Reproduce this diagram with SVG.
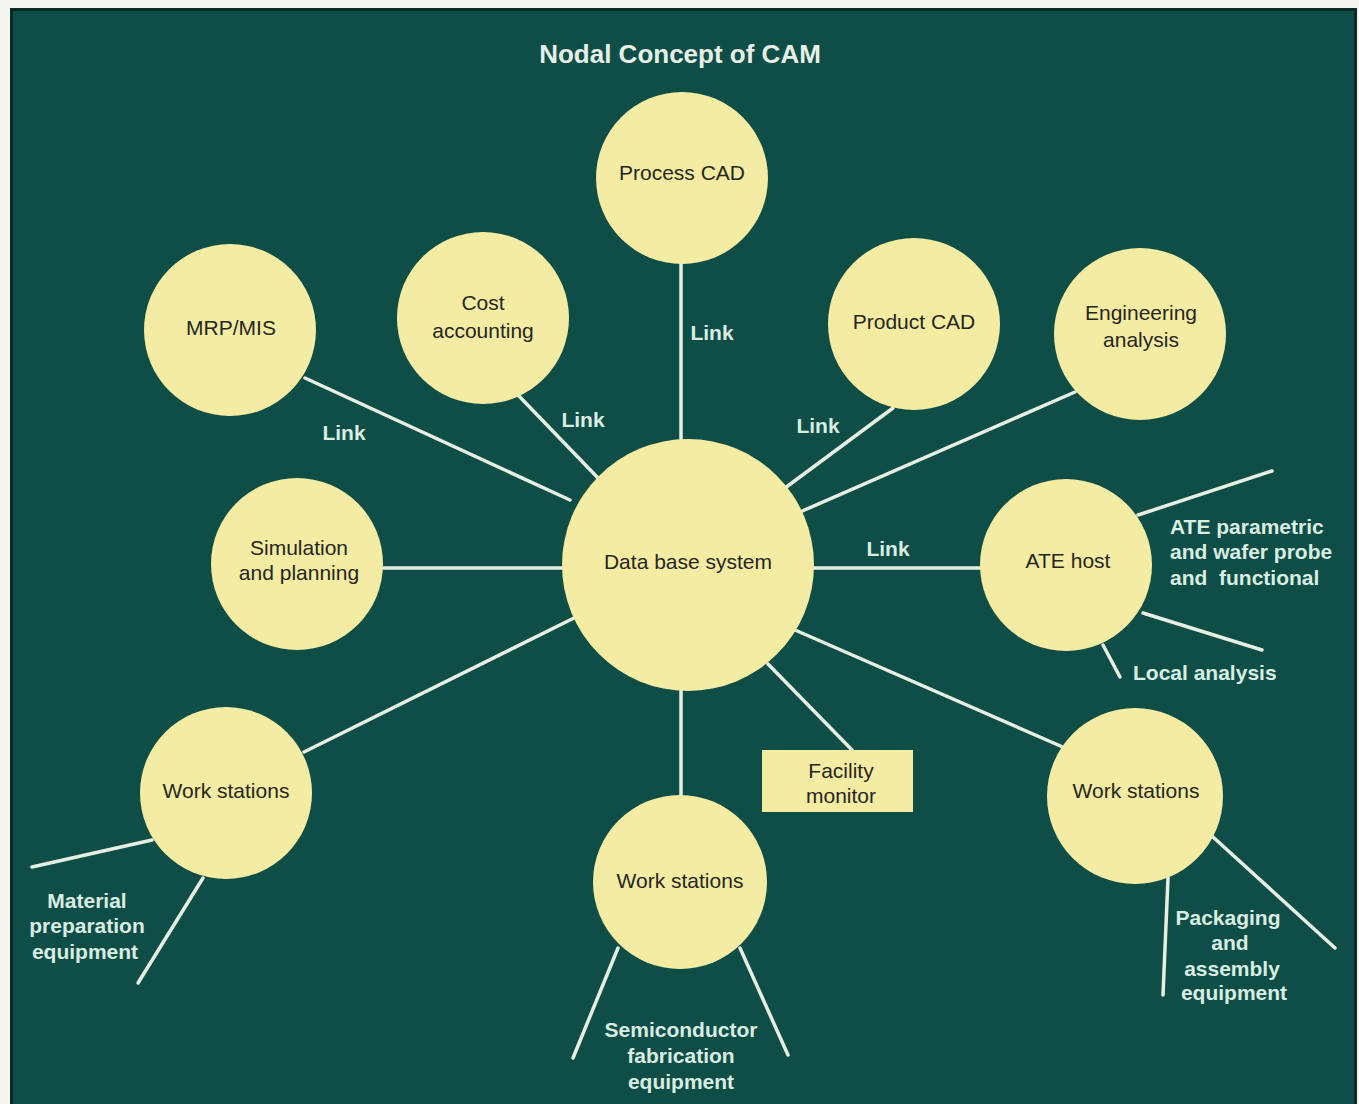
<svg xmlns="http://www.w3.org/2000/svg" width="1359" height="1104" viewBox="0 0 1359 1104">
<style>
.bg{fill:#0f4e46}
.n{fill:#f3eca2}
.t{font-family:"Liberation Sans",Arial,sans-serif;font-size:21px;fill:#27261c;text-anchor:middle}
.l{font-family:"Liberation Sans",Arial,sans-serif;font-size:21px;font-weight:bold;fill:#d9ede2;text-anchor:middle}
.c line{stroke:#e6efe2;stroke-width:3.5;stroke-linecap:round}
</style>
<rect x="0" y="0" width="1359" height="1104" fill="#f4f4f0"/>
<rect x="10" y="8" width="1347" height="1096" fill="#0a2a26"/>
<rect class="bg" x="13" y="11" width="1341" height="1093"/>
<text x="680" y="63" class="l" style="font-size:26px;fill:#e6f0e6">Nodal Concept of CAM</text>
<g class="c" id="connectors">
<line x1="681" y1="262" x2="681" y2="440"/>
<line x1="305" y1="378" x2="570" y2="500"/>
<line x1="518" y1="395" x2="598" y2="478"/>
<line x1="893" y1="408" x2="785" y2="488"/>
<line x1="1075" y1="392" x2="800" y2="512"/>
<line x1="383" y1="568" x2="562" y2="568"/>
<line x1="812" y1="568" x2="980" y2="568"/>
<line x1="304" y1="752" x2="576" y2="617"/>
<line x1="681" y1="688" x2="681" y2="795"/>
<line x1="768" y1="664" x2="852" y2="750"/>
<line x1="795" y1="630" x2="1065" y2="748"/>
<line x1="1138" y1="515" x2="1272" y2="471"/>
<line x1="1143" y1="613" x2="1262" y2="650"/>
<line x1="1103" y1="645" x2="1120" y2="677"/>
<line x1="32" y1="867" x2="152" y2="840"/>
<line x1="203" y1="878" x2="138" y2="983"/>
<line x1="618" y1="948" x2="573" y2="1058"/>
<line x1="740" y1="948" x2="788" y2="1055"/>
<line x1="1168" y1="878" x2="1163" y2="995"/>
<line x1="1213" y1="837" x2="1335" y2="948"/>
</g>
<g id="labels">
<text x="712" y="340" class="l">Link</text>
<text x="344" y="440" class="l">Link</text>
<text x="583" y="427" class="l">Link</text>
<text x="818" y="433" class="l">Link</text>
<text x="888" y="556" class="l">Link</text>
<text x="1170" y="534" class="l" style="text-anchor:start">ATE parametric</text>
<text x="1170" y="559" class="l" style="text-anchor:start">and wafer probe</text>
<text x="1170" y="585" class="l" style="text-anchor:start;white-space:pre" xml:space="preserve">and  functional</text>
<text x="1133" y="680" class="l" style="text-anchor:start">Local analysis</text>
<text x="87" y="908" class="l">Material</text>
<text x="87" y="933" class="l">preparation</text>
<text x="85" y="959" class="l">equipment</text>
<text x="681" y="1037" class="l">Semiconductor</text>
<text x="681" y="1063" class="l">fabrication</text>
<text x="681" y="1089" class="l">equipment</text>
<text x="1228" y="925" class="l">Packaging</text>
<text x="1230" y="950" class="l">and</text>
<text x="1232" y="976" class="l">assembly</text>
<text x="1234" y="1000" class="l">equipment</text>
</g>
<g id="process-cad"><circle class="n" cx="682" cy="178" r="86"/><text x="682" y="180" class="t">Process CAD</text></g>
<g id="mrp-mis"><circle class="n" cx="230" cy="330" r="86"/><text x="231" y="335" class="t">MRP/MIS</text></g>
<g id="cost-accounting"><circle class="n" cx="483" cy="318" r="86"/><text x="483" y="310" class="t">Cost</text><text x="483" y="338" class="t">accounting</text></g>
<g id="product-cad"><circle class="n" cx="914" cy="324" r="86"/><text x="914" y="329" class="t">Product CAD</text></g>
<g id="engineering-analysis"><circle class="n" cx="1140" cy="334" r="86"/><text x="1141" y="320" class="t">Engineering</text><text x="1141" y="347" class="t">analysis</text></g>
<g id="simulation-planning"><circle class="n" cx="297" cy="564" r="86"/><text x="299" y="555" class="t">Simulation</text><text x="299" y="580" class="t">and planning</text></g>
<g id="database"><circle class="n" cx="688" cy="565" r="126"/><text x="688" y="569" class="t">Data base system</text></g>
<g id="ate-host"><circle class="n" cx="1066" cy="565" r="86"/><text x="1068" y="568" class="t">ATE host</text></g>
<g id="ws-left"><circle class="n" cx="226" cy="793" r="86"/><text x="226" y="798" class="t">Work stations</text></g>
<g id="ws-bottom"><circle class="n" cx="680" cy="882" r="87"/><text x="680" y="888" class="t">Work stations</text></g>
<g id="ws-right"><circle class="n" cx="1135" cy="796" r="88"/><text x="1136" y="798" class="t">Work stations</text></g>
<g id="facility-monitor"><rect class="n" x="762" y="750" width="151" height="62"/><text x="841" y="778" class="t">Facility</text><text x="841" y="803" class="t">monitor</text></g>
</svg>
